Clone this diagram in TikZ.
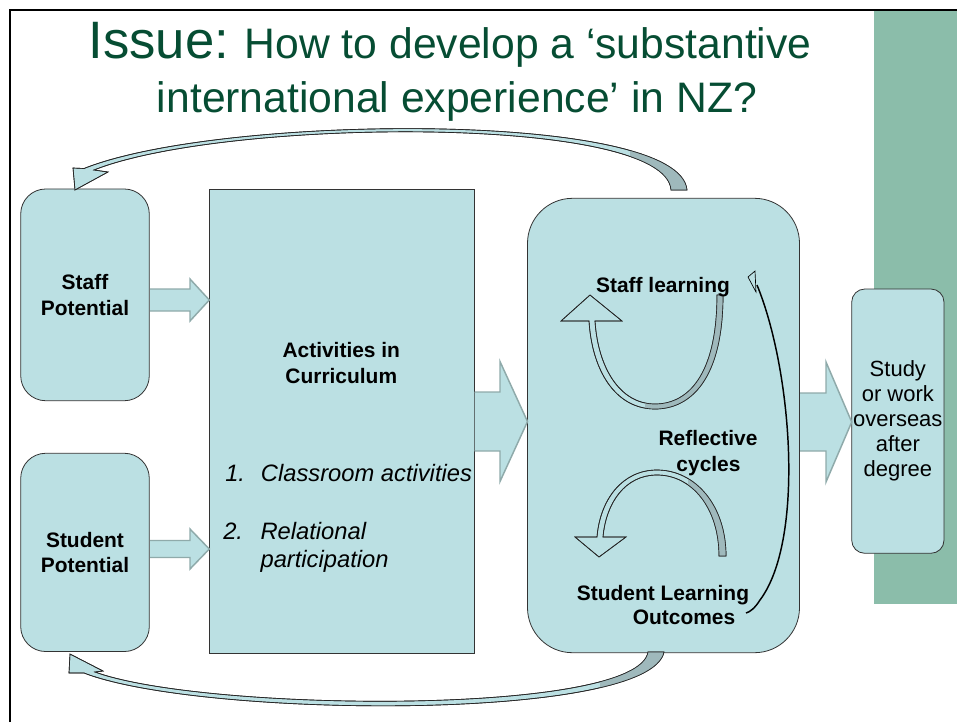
\documentclass[tikz,border=0pt]{standalone}
\usepackage{fontspec}
\setmainfont{Liberation Sans}
\usetikzlibrary{calc}
\definecolor{boxfill}{HTML}{BBE0E3}
\definecolor{arrline}{HTML}{8FAAAA}
\definecolor{bandgreen}{HTML}{8BBDAA}
\definecolor{titlegreen}{HTML}{064D33}
\definecolor{hatchc}{HTML}{9FB9BC}
\newcommand\lblf{\fontsize{15.7}{19}\selectfont\bfseries}
\newcommand\itf{\fontsize{17.8}{21}\selectfont\itshape}
\newcommand\blkarrow[6]{\draw[blk] (#1,#4-#5) -- (#2,#4-#5) -- (#2,#4-#6) -- (#3,#4) -- (#2,#4+#6) -- (#2,#4+#5) -- (#1,#4+#5);}
\newcommand\toppathcmd{(75,190) -- (73,168) -- (84,168.5) .. controls (220,114) and (680,110) .. (687,190) -- (671,190) .. controls (666,114) and (225,118) .. (94,170) -- (108,172) -- cycle}
\newcommand\botpathcmd{(70,654) -- (69,673) -- (84,673) .. controls (200,718) and (650,722) .. (664,652) -- (648,652) .. controls (638,716) and (205,712) .. (95,672) -- (103,671) -- cycle}
\newcommand\upathcmd{(723,295) .. controls (723,380) and (690,409) .. (655,409) .. controls (615,409) and (592,370) .. (589,321) -- (561,321) -- (590,295) -- (622,321) -- (595,321) .. controls (598,368) and (620,404) .. (655,404) .. controls (688,404) and (717,375) .. (717,295) -- cycle}
\newcommand\npathcmd{(726,556) .. controls (726,505) and (695,470) .. (657,470) .. controls (622,470) and (600,500) .. (597,537) -- (575,537) -- (599,557) -- (626,537) -- (603,537) .. controls (606,503) and (625,475) .. (657,475) .. controls (692,475) and (719,508) .. (719,556) -- cycle}
\begin{document}
\begin{tikzpicture}[x=0.75pt,y=-0.75pt,
  box/.style={draw=black!80, line width=0.6pt, fill=boxfill, inner sep=0pt, align=center},
  lbl/.style={font=\lblf, anchor=base, inner sep=0pt},
  itl/.style={font=\itf, anchor=base west, inner sep=0pt},
  blk/.style={fill=boxfill, draw=arrline, line width=1.1pt, line join=miter},
  curv/.style={fill=boxfill, draw=black!85, line width=0.5pt, line join=miter},
  hatchfill/.style={fill=hatchc},
]
\useasboundingbox (0,0) rectangle (957,722);
% background band and frame
\fill[bandgreen] (874,11) rectangle (957,604);
\draw[line width=1.6pt] (10,722) -- (10,10) -- (957,10);

% title
\node[anchor=base, inner sep=0pt, text=titlegreen, font=\fontsize{32}{40}\selectfont] (title1) at (450,58) {{\fontsize{39.5}{40}\selectfont Issue:} How to develop a ‘substantive};
\node[anchor=base, inner sep=0pt, text=titlegreen, font=\fontsize{32}{40}\selectfont] (title2) at (457,112) {international experience’ in NZ?};

% boxes
\node[box, rounded corners=18.75pt, minimum width=96.45pt, minimum height=158.8pt, font=\lblf] (staff) at (85,294.85) {Staff\\Potential};
\node[box, rounded corners=18.75pt, minimum width=96.45pt, minimum height=148.7pt, font=\lblf] (student) at (85,552.4) {Student\\Potential};
\node[box, minimum width=198.5pt, minimum height=348pt] (act) at (341.65,421) {};
\node[box, rounded corners=33.75pt, minimum width=204pt, minimum height=340.8pt] (refl) at (663.5,425.5) {};
\node[box, rounded corners=9.75pt, minimum width=69.2pt, minimum height=198.2pt, font=\fontsize{16.5}{18.75}\selectfont] (study) at (897.85,421.15) {Study\\or work\\overseas\\after\\degree};

% block arrows
\blkarrow{150}{190}{209.3}{300}{11}{21}
\blkarrow{150}{190}{209.3}{549}{8.5}{20}
\blkarrow{474.5}{500}{527.5}{421.5}{29.5}{60}
\blkarrow{800}{826}{851.7}{422}{29}{60}

% feedback curved arrows
\filldraw[curv] \toppathcmd;
\begin{scope}
  \clip (630,100) rectangle (700,195);
  \fill[hatchfill] \toppathcmd;
\end{scope}
\draw[black!85, line width=0.5pt] \toppathcmd;

\filldraw[curv] \botpathcmd;
\begin{scope}
  \clip (600,640) rectangle (700,722);
  \fill[hatchfill] \botpathcmd;
\end{scope}
\draw[black!85, line width=0.5pt] \botpathcmd;

% reflective cycles
\filldraw[curv] \upathcmd;
\begin{scope}
  \clip (645,280) rectangle (730,415);
  \fill[hatchfill] \upathcmd;
\end{scope}
\draw[black!85, line width=0.5pt] \upathcmd;

\filldraw[curv] \npathcmd;
\begin{scope}
  \clip (688,460) rectangle (730,560);
  \fill[hatchfill] \npathcmd;
\end{scope}
\draw[black!85, line width=0.5pt] \npathcmd;

% long thin arrow
\coordinate (lt1) at (757,285);
\coordinate (lt2) at (746,613);
\draw[line width=1.1pt] (lt1) .. controls (792,370) and (805,540) .. (760,600) .. controls (755,608) and (750,612) .. (lt2);
\filldraw[fill=boxfill, draw=black, line width=0.5pt] (748,277) -- (755,271) -- (756,292) -- cycle;

% labels
\node[lbl] (actl1) at (341.3,357) {Activities in};
\node[lbl] (actl2) at (341.3,383) {Curriculum};
\node[itl] (n1) at (225,481) {1.};
\node[itl] (i1) at (260.7,481) {Classroom activities};
\node[itl] (n2) at (223,539) {2.};
\node[itl] (i2) at (260.3,539) {Relational};
\node[itl] (i3) at (260.3,567) {participation};
\node[lbl] (sl) at (663,292) {Staff learning};
\node[lbl] (rc1) at (708,445) {Reflective};
\node[lbl] (rc2) at (708.5,471) {cycles};
\node[lbl] (slo1) at (663,600) {Student Learning};
\node[lbl] (slo2) at (684,624.3) {Outcomes};
\end{tikzpicture}
\end{document}
